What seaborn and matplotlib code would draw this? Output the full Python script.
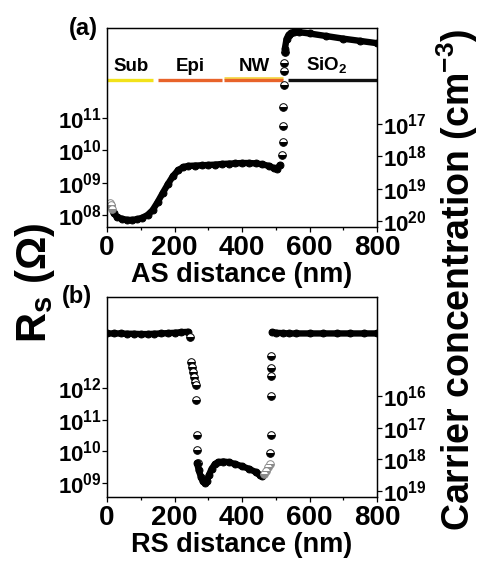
import numpy as np
import matplotlib
matplotlib.use('Agg')
import matplotlib.pyplot as plt
import seaborn as sns
from matplotlib.ticker import FixedLocator, NullLocator

sns.set_style('ticks')
plt.rcParams['font.family'] = ['Liberation Sans', 'DejaVu Sans']
plt.rcParams['font.weight'] = 'bold'
plt.rcParams['mathtext.fontset'] = 'custom'
plt.rcParams['mathtext.rm'] = 'Liberation Sans:bold'
plt.rcParams['mathtext.bf'] = 'Liberation Sans:bold'
plt.rcParams['mathtext.it'] = 'Liberation Sans:bold:italic'
plt.rcParams['mathtext.sf'] = 'Liberation Sans:bold'
plt.rcParams['axes.linewidth'] = 0.9
for k in ['text.color', 'axes.labelcolor', 'xtick.color', 'ytick.color', 'axes.edgecolor']:
    plt.rcParams[k] = 'black'

# ---- panel (a): AS profile, values are log10(Rs / Ohm)
a_x_start = [10, 12, 15]
a_logR_start = [8.38, 8.3, 8.2]
a_x_dense = [12, 20, 30, 45, 60, 75, 90, 105, 120, 135, 150, 165, 180, 195, 210, 225,
             240, 260, 280, 300, 320, 340, 360, 380, 400, 420, 440, 460, 480, 495, 505, 512]
a_logR_dense = [8.3, 8.05, 7.94, 7.88, 7.85, 7.85, 7.87, 7.92, 8.0, 8.15, 8.4, 8.68, 8.95, 9.2, 9.38, 9.48,
                9.52, 9.53, 9.54, 9.55, 9.56, 9.58, 9.59, 9.6, 9.61, 9.61, 9.6, 9.57, 9.52, 9.45, 9.44, 9.55]
a_x_jump = [519, 520, 521, 522, 523, 524, 525, 526]
a_logR_jump = [9.86, 10.26, 10.76, 11.34, 12.02, 12.46, 12.71, 13.05]
a_x_top = [527, 532, 538, 545, 555, 570, 600, 650, 700, 750, 800]
a_logR_top = [13.15, 13.45, 13.58, 13.64, 13.66, 13.66, 13.62, 13.54, 13.46, 13.39, 13.32]

# region bars and names
regions = ['Sub', 'Epi', 'NW', 'SiO$_2$']
region_start = [0, 151, 347, 536]
region_end = [136, 341, 521, 800]
region_label_x = [72, 246, 436, 652]
region_colors = ['#f2e21a', '#e8632a', '#e8632a', '#111111']
bar_logR = 12.18
label_logR = 12.33

# ---- panel (b): RS profile
b_x_left = [0, 20, 40, 60, 80, 100, 120, 140, 160, 180, 200, 220, 240]
b_logR_left = [13.72, 13.72, 13.72, 13.71, 13.71, 13.7, 13.7, 13.71, 13.72, 13.73, 13.74, 13.76, 13.77]
b_x_drop = [245, 249, 253, 256, 259, 262, 263, 265, 266, 267, 269]
b_logR_drop = [13.6, 12.82, 12.66, 12.5, 12.34, 12.19, 12.09, 11.62, 10.51, 10.04, 9.63]
b_x_valley = [267, 272, 278, 284, 290, 296, 302, 310, 320, 330, 345, 360, 380, 400, 420, 440, 452, 460]
b_logR_valley = [9.63, 9.4, 9.2, 9.05, 9.0, 9.08, 9.25, 9.45, 9.6, 9.66, 9.68, 9.66, 9.6, 9.53, 9.45,
                 9.35, 9.25, 9.22]
b_x_gray = [466, 472, 478, 483]
b_logR_gray = [9.28, 9.38, 9.5, 9.6]
b_x_rise = [484, 485, 486, 486, 487, 487]
b_logR_rise = [9.95, 10.51, 11.74, 12.37, 12.63, 13.0]
b_x_right = [490, 500, 520, 540, 560, 600, 640, 680, 720, 760, 800]
b_logR_right = [13.76, 13.74, 13.73, 13.72, 13.72, 13.72, 13.72, 13.72, 13.72, 13.72, 13.72]

xticks = [0, 200, 400, 600, 800]
xminor = [100, 300, 500, 700]
a_left_ticks = [8, 9, 10, 11]
a_right_ticks = [17, 18, 19, 20]
b_left_ticks = [9, 10, 11, 12]
b_right_ticks = [16, 17, 18, 19]

W, H = 484, 561
fig = plt.figure(figsize=(W / 100, H / 100), dpi=100)


def dense(ax, x, lr):
    sns.lineplot(x=x, y=10 ** np.array(lr), ax=ax, estimator=None, sort=False,
                 color='black', lw=4.6, marker='o', ms=5, mec='black', mew=0.7)


def dots(ax, x, lr, face='black'):
    sns.lineplot(x=x, y=10 ** np.array(lr), ax=ax, estimator=None, sort=False,
                 color=face, ls='none', marker='o', ms=5.5, fillstyle='bottom',
                 markerfacecolor=face, markerfacecoloralt='white', mec=face, mew=0.7)


def setup(ax, ylo, yhi, c, lticks, rticks, xlabel):
    ax.set_yscale('log')
    ax.set_xlim(0, 800)
    ax.set_ylim(10 ** ylo, 10 ** yhi)
    ax.xaxis.set_major_locator(FixedLocator(xticks))
    ax.xaxis.set_minor_locator(FixedLocator(xminor))
    ax.set_xticklabels([str(t) for t in xticks])
    ax.yaxis.set_major_locator(FixedLocator([10.0 ** t for t in lticks]))
    ax.yaxis.set_minor_locator(NullLocator())
    ax.set_yticklabels(['$10^{%02d}$' % t for t in lticks])
    ax.tick_params(axis='x', which='major', direction='out', length=3.5, width=0.9, labelsize=20, pad=2)
    ax.tick_params(axis='x', which='minor', direction='out', length=2.5, width=0.9)
    ax.tick_params(axis='y', direction='out', length=3.5, width=0.9, labelsize=16, pad=0.5)
    ax.set_xlabel(xlabel, fontsize=19.5, fontweight='bold', labelpad=1)
    ax.set_ylabel('')
    ax2 = ax.twinx()
    ax2.set_yscale('log')
    ax2.set_ylim(10 ** (c - ylo), 10 ** (c - yhi))
    ax2.yaxis.set_major_locator(FixedLocator([10.0 ** t for t in rticks]))
    ax2.yaxis.set_minor_locator(NullLocator())
    ax2.set_yticklabels(['$10^{%d}$' % t for t in rticks])
    ax2.tick_params(axis='y', direction='out', length=3.5, width=0.9, labelsize=16, pad=1)
    return ax2


# panel (a)
axa = fig.add_axes([107 / W, 1 - 227 / H, 270 / W, 199 / H])
for s, e, col in zip(region_start, region_end, region_colors):
    if s == region_start[2]:
        axa.plot([s, e], [10 ** (bar_logR + 0.05)] * 2, color='#f6d84a', lw=2.0, solid_capstyle='butt')
    axa.plot([s, e], [10 ** bar_logR] * 2, color=col, lw=2.4, solid_capstyle='butt')
for name, lx in zip(regions, region_label_x):
    axa.text(lx, 10 ** label_logR, name, ha='center', va='bottom', fontsize=13.5, fontweight='bold')
dense(axa, a_x_dense, a_logR_dense)
dots(axa, a_x_start, a_logR_start, face='#8a8a8a')
dots(axa, a_x_jump, a_logR_jump)
dense(axa, a_x_top, a_logR_top)
setup(axa, 7.63, 13.79, 27.82, a_left_ticks, a_right_ticks, 'AS distance (nm)')

# panel (b)
axb = fig.add_axes([107 / W, 1 - 497 / H, 270 / W, 200 / H])
dense(axb, b_x_left, b_logR_left)
dots(axb, b_x_drop, b_logR_drop)
dense(axb, b_x_valley, b_logR_valley)
dots(axb, b_x_gray, b_logR_gray, face='#8a8a8a')
dots(axb, b_x_rise, b_logR_rise)
dense(axb, b_x_right, b_logR_right)
setup(axb, 8.56, 14.87, 27.75, b_left_ticks, b_right_ticks, 'RS distance (nm)')

fig.text(83 / W, 1 - 28 / H, '(a)', fontsize=17, fontweight='bold', ha='center', va='center')
fig.text(77 / W, 1 - 297 / H, '(b)', fontsize=17, fontweight='bold', ha='center', va='center')
fig.text(35 / W, 1 - 283 / H, r'R$_\mathregular{s}$ ($\Omega$)', fontsize=30, fontweight='bold',
         rotation=90, ha='center', va='center')
fig.text(457 / W, 1 - 280 / H, r'Carrier concentration (cm$^{-3}$)', fontsize=27, fontweight='bold',
         rotation=90, ha='center', va='center')

fig.savefig('out.png', dpi=100)
